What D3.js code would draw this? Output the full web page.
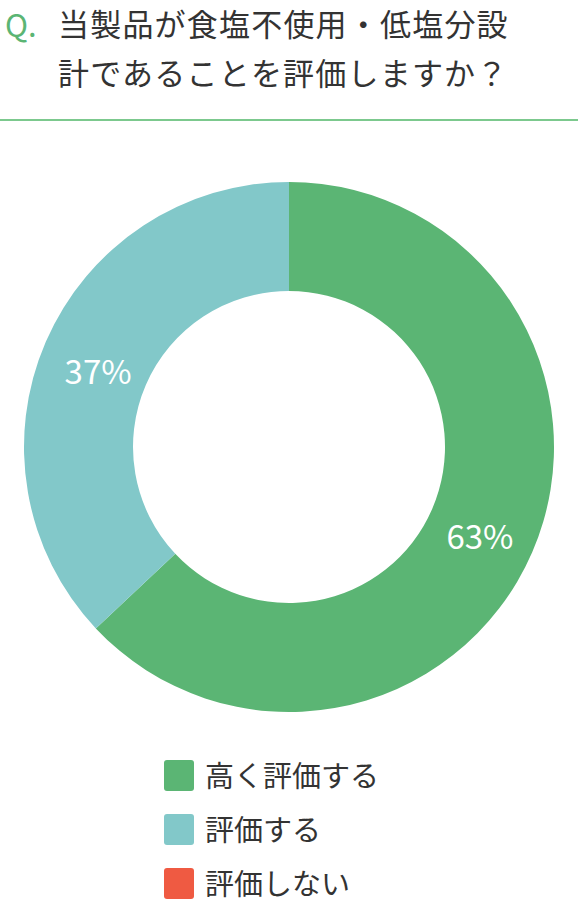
<!DOCTYPE html>
<html><head><meta charset="utf-8">
<script src="https://cdn.jsdelivr.net/npm/d3@7"></script>
<style>body{margin:0;background:#fff;}svg{display:block;}</style>
</head><body>
<svg id="c" width="578" height="907"></svg>
<script>
const titleLines = ["当製品が食塩不使用・低塩分設", "計であることを評価しますか？"];
const categories = ["高く評価する", "評価する", "評価しない"];
const values = [63, 37, 0];
const colors = ["#5bb574", "#82c8c9", "#ef5a42"];

const svg = d3.select("#c");
const font = "'Noto Sans CJK JP','Noto Sans',sans-serif";

svg.append("text").attr("x", 5).attr("y", 37).attr("fill", "#5bb574")
  .attr("font-family", font).attr("font-size", 31).text("Q.");
titleLines.forEach((t, i) => {
  svg.append("text").attr("x", 58).attr("y", 36 + i * 49).attr("fill", "#333")
    .attr("font-family", font).attr("font-size", 31).attr("letter-spacing", 1.2).text(t);
});
svg.append("line").attr("x1", 0).attr("x2", 578).attr("y1", 120).attr("y2", 120)
  .attr("stroke", "#7cc98e").attr("stroke-width", 2);

const cx = 289, cy = 447, R = 265, r = 156;
const pie = d3.pie().sort(null).value(d => d)(values);
const arc = d3.arc().innerRadius(r).outerRadius(R);
const g = svg.append("g").attr("transform", `translate(${cx},${cy})`);
g.selectAll("path").data(pie).join("path").attr("d", arc).attr("fill", (d, i) => colors[i]);

const labelArc = d3.arc().innerRadius(208).outerRadius(208);
g.selectAll("text.lbl").data(pie.filter(d => d.data > 0)).join("text")
  .attr("class", "lbl")
  .attr("transform", d => { const c = labelArc.centroid(d); return `translate(${c[0]},${c[1]})`; })
  .attr("text-anchor", "middle").attr("dy", "0.6em")
  .attr("fill", "#fff").attr("font-family", font).attr("font-size", 33)
  .text(d => d.data + "%");

const lg = svg.append("g");
categories.forEach((c, i) => {
  const y = 760 + i * 54;
  lg.append("rect").attr("x", 164).attr("y", y).attr("width", 30).attr("height", 31)
    .attr("rx", 3).attr("fill", colors[i]);
  lg.append("text").attr("x", 205).attr("y", y + 27).attr("fill", "#333")
    .attr("font-family", font).attr("font-size", 29).text(c);
});
</script>
</body></html>
